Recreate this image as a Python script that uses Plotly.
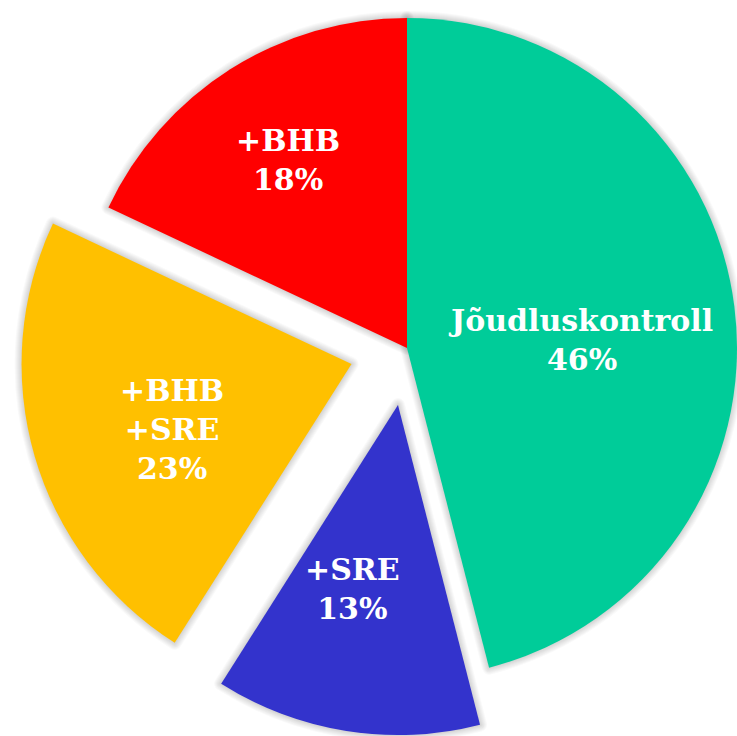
import math
import plotly.graph_objects as go

labels = ["Jõudluskontroll", "+SRE", "+BHB<br>+SRE", "+BHB"]
values = [46, 13, 23, 18]
colors = ["#00CC99", "#3333CC", "#FFC000", "#FF0000"]
pulls = [0, 0.175, 0.175, 0]

# label placement (fraction of radius, angular shift in degrees)
label_frac = [0.525, 0.575, 0.58, 0.675]
label_shift = [4.6, 5.0, -3.9, 0.0]

W, H = 737, 736
CX, CY, R = 407, 348, 330

total = sum(values)
pct = [f"{round(v / total * 100)}%" for v in values]

mids = []
acc = 0
for v in values:
    mids.append((acc + v / 2) / total * 2 * math.pi)
    acc += v

groups = {}
for i, p in enumerate(pulls):
    key = ("c",) if p == 0 else ("p", i)
    groups.setdefault(key, []).append(i)

def center_for(i):
    d = pulls[i] * R
    return CX + d * math.sin(mids[i]), CY - d * math.cos(mids[i])

def domain_for(key):
    cx, cy = (CX, CY) if key[0] == "c" else center_for(key[1])
    dx = [max(0, (cx - R) / W), min(1, (cx + R) / W)]
    dy = [max(0, (H - cy - R) / H), min(1, (H - cy + R) / H)]
    return dict(x=dx, y=dy)

n = len(values)
fig = go.Figure()

# soft shadow layers
for w in range(14, 0, -2):
    for key, idxs in groups.items():
        fig.add_trace(go.Pie(
            labels=labels, values=values, sort=False, direction="clockwise", rotation=0,
            marker=dict(colors=["rgba(0,0,0,0)"] * n,
                        line=dict(color="rgba(0,0,0,0.025)",
                                  width=[w if k in idxs else 0 for k in range(n)])),
            textinfo="none", hoverinfo="skip", domain=domain_for(key), showlegend=False,
        ))

for key, idxs in groups.items():
    cols = [colors[k] if k in idxs else "rgba(0,0,0,0)" for k in range(n)]
    fig.add_trace(go.Pie(
        labels=labels, values=values, sort=False, direction="clockwise", rotation=0,
        marker=dict(colors=cols, line=dict(width=0)),
        textinfo="none", hoverinfo="skip", domain=domain_for(key), showlegend=False,
    ))

for i in range(n):
    cx, cy = center_for(i)
    a = mids[i] + math.radians(label_shift[i])
    x = cx + label_frac[i] * R * math.sin(a)
    y = cy - label_frac[i] * R * math.cos(a)
    fig.add_annotation(
        x=x / W, y=1 - y / H, xref="paper", yref="paper", showarrow=False,
        xanchor="center", yanchor="middle", align="center",
        text=f"<b>{labels[i]}<br>{pct[i]}</b>",
        font=dict(family="DejaVu Serif", size=30, color="white"),
    )

fig.update_layout(width=W, height=H, margin=dict(l=0, r=0, t=0, b=0),
                  paper_bgcolor="white", plot_bgcolor="white", showlegend=False)
fig.write_html("out.html", config={"displayModeBar": False},
               post_script="document.body.style.margin='0';document.body.style.overflow='hidden';")
